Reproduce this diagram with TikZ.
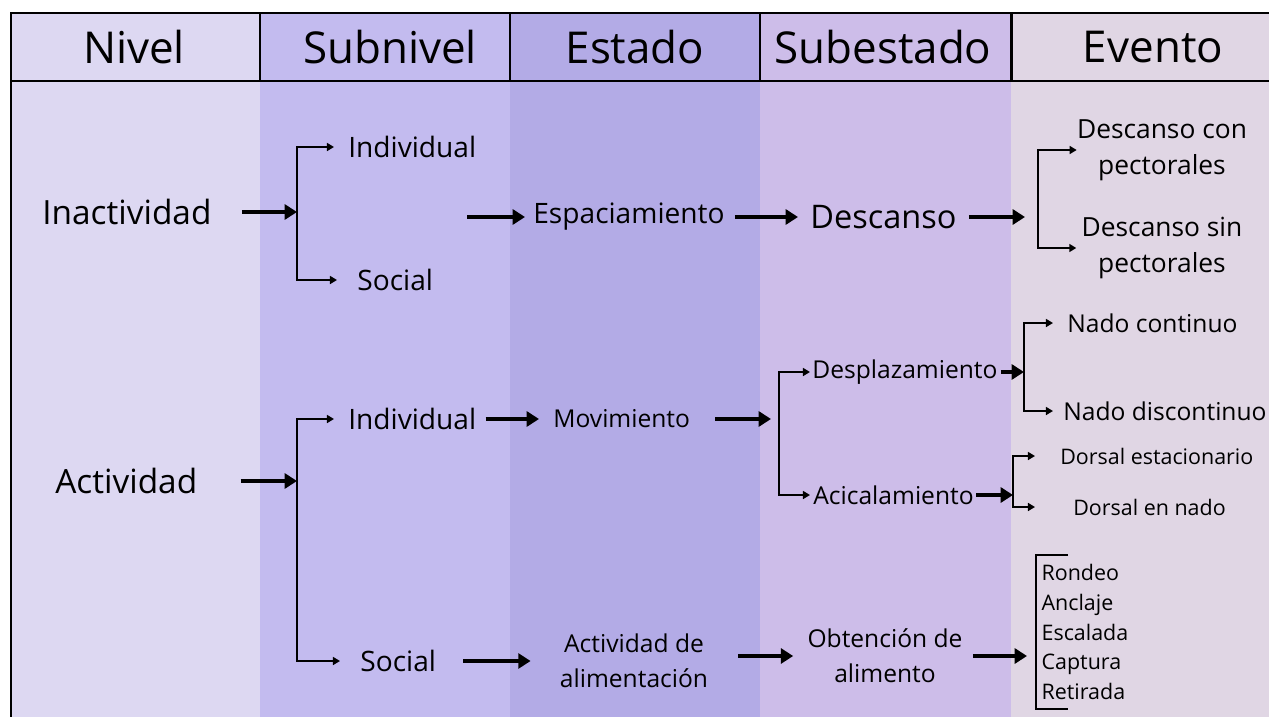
\documentclass[tikz,border=0pt]{standalone}
\usepackage{fontspec}
\setmainfont{Open Sans}
\usetikzlibrary{arrows.meta}

\definecolor{nivelcol}{RGB}{221,216,242}
\definecolor{subnivcol}{RGB}{195,187,239}
\definecolor{estadocol}{RGB}{179,171,230}
\definecolor{subestcol}{RGB}{205,189,233}
\definecolor{eventocol}{RGB}{224,214,228}

\tikzset{
  frame/.style={line width=1.7pt},
  flow/.style={line width=2.2pt,-{Triangle[length=7pt,width=8.5pt]}},
  branch/.style={line width=1.1pt,-{Triangle[length=4pt,width=4.5pt]}},
  brace/.style={line width=1.4pt},
  lbl/.style={inner sep=0pt,text=black},
  head/.style={lbl,font=\fontsize{25}{30}\selectfont},
  nivel/.style={lbl,font=\fontsize{19}{24}\selectfont},
  subniv/.style={lbl,font=\fontsize{16}{21}\selectfont},
  estado/.style={lbl,font=\fontsize{14}{19.8}\selectfont,align=center},
  evento/.style={lbl,font=\fontsize{14}{19}\selectfont},
  dorsal/.style={lbl,font=\fontsize{12.2}{17}\selectfont,align=left}
}

\begin{document}
\begin{tikzpicture}[x=0.02cm,y=-0.02cm]
  \useasboundingbox (0,0) rectangle (1269,717);
  \fill[white] (0,0) rectangle (1269,717);

  % Columns and header
  \foreach \a/\b/\c in {11/260/nivelcol,260/510/subnivcol,510/760/estadocol,760/1011/subestcol,1011/1269/eventocol}
    \fill[\c] (\a,13) rectangle (\b,717);
  \draw[frame] (11,717) -- (11,13) -- (1269,13);
  \draw[frame] (11,81) -- (1269,81);
  \foreach \x in {260,510,760,1011}
    \draw[frame] (\x,13) -- (\x,81);
  \foreach \x/\t in {134/Nivel,390/Subnivel,635/Estado,883/Subestado,1153/Evento}
    \node[head] (head-\t) at (\x,47) {\t};

  % Inactividad
  \node[nivel,anchor=west] (inact) at (42,212) {Inactividad};
  \coordinate (brA) at (297,212);
  \node[subniv,anchor=west] (indA) at (348,147) {Individual};
  \node[subniv,anchor=west] (socA) at (357,280) {Social};
  \coordinate (espIn) at (467,217);
  \node[subniv,anchor=west] (esp) at (533,217) {Espaciamiento};
  \node[lbl,anchor=west,font=\fontsize{18.5}{24}\selectfont] (desc) at (810,217) {Descanso};
  \coordinate (brD) at (1038,217);
  \node[lbl,align=center,font=\fontsize{15}{20.4}\selectfont] (dcon) at (1162,150) {Descanso con\\pectorales};
  \node[lbl,align=center,font=\fontsize{15}{20.4}\selectfont] (dsin) at (1162,248) {Descanso sin\\pectorales};

  \draw[flow,shorten <=0.6cm] (inact.east) -- (brA);
  \draw[branch,shorten >=0.28cm] (brA) |- (indA.west);
  \draw[branch,shorten >=0.4cm] (brA) |- (socA.west);
  \draw[flow,shorten >=0.16cm] (espIn) -- (esp.west);
  \draw[flow,shorten <=0.2cm,shorten >=0.24cm] (esp.east) -- (desc.west);
  \draw[flow,shorten <=0.24cm,shorten >=0.26cm] (desc.east) -- (brD);
  \draw[branch] (brD) |- (dcon.west);
  \draw[branch,shorten >=0.1cm] (brD) |- (dsin.west);

  % Actividad
  \node[nivel,anchor=west] (act) at (55,481) {Actividad};
  \coordinate (brB) at (297,481);
  \node[subniv,anchor=west] (indB) at (348,419) {Individual};
  \node[subniv,anchor=west] (socB) at (360,661) {Social};
  \node[estado,anchor=west] (mov) at (553,419) {Movimiento};
  \coordinate (brC) at (779,419);
  \node[estado,anchor=west] (despl) at (812,372) {Desplazamiento};
  \node[estado,anchor=west] (acic) at (813,495) {Acicalamiento};
  \coordinate (brE) at (1024,372);
  \coordinate (brF) at (1013,495);
  \node[evento,anchor=west] (nadoc) at (1067,323) {Nado continuo};
  \node[evento,anchor=west] (nadod) at (1063,411) {Nado discontinuo};
  \node[dorsal,anchor=west] (dors1) at (1060,456) {Dorsal estacionario};
  \node[dorsal,anchor=west] (dors2) at (1073,507) {Dorsal en nado};
  \node[estado] (actal) at (634,661) {Actividad de\\alimentación};
  \node[estado] (obt) at (885,656) {Obtención de\\alimento};
  \node[dorsal,anchor=west,inner xsep=3pt,inner ysep=5pt] (lista) at (1036,632)
    {Rondeo\\Anclaje\\Escalada\\Captura\\Retirada};

  \draw[flow,shorten <=0.86cm] (act.east) -- (brB);
  \draw[branch,shorten >=0.28cm] (brB) |- (indB.west);
  \draw[branch,shorten >=0.4cm] (brB) |- (socB.west);
  \draw[flow,shorten <=0.18cm,shorten >=0.28cm] (indB.east) -- (mov.west);
  \draw[flow,shorten <=0.5cm,shorten >=0.16cm] (mov.east) -- (brC);
  \draw[branch,shorten >=0.04cm] (brC) |- (despl.west);
  \draw[branch,shorten >=0.06cm] (brC) |- (acic.west);
  \draw[flow,shorten <=0.06cm] (despl.east) -- (brE);
  \draw[branch,shorten >=0.28cm] (brE) |- (nadoc.west);
  \draw[branch,shorten >=0.2cm] (brE) |- (nadod.west);
  \draw[flow,shorten <=0.04cm] (acic.east) -- (brF);
  \draw[branch,shorten >=0.5cm] (brF) |- (dors1.west);
  \draw[branch,shorten >=0.76cm] (brF) |- (dors2.west);
  \draw[flow,shorten <=0.54cm,shorten >=0.58cm] (socB.east) -- (socB.east -| actal.west);
  \draw[flow,shorten <=0.6cm,shorten >=0.28cm] (obt.west -| actal.east) -- (obt.west);
  \draw[flow,shorten <=0.2cm,shorten >=0.18cm] (obt.east) -- (obt.east -| lista.west);
  \draw[brace] (lista.north west) ++(32,0) -- (lista.north west)
    -- (lista.south west) -- ++(32,0);
\end{tikzpicture}
\end{document}
